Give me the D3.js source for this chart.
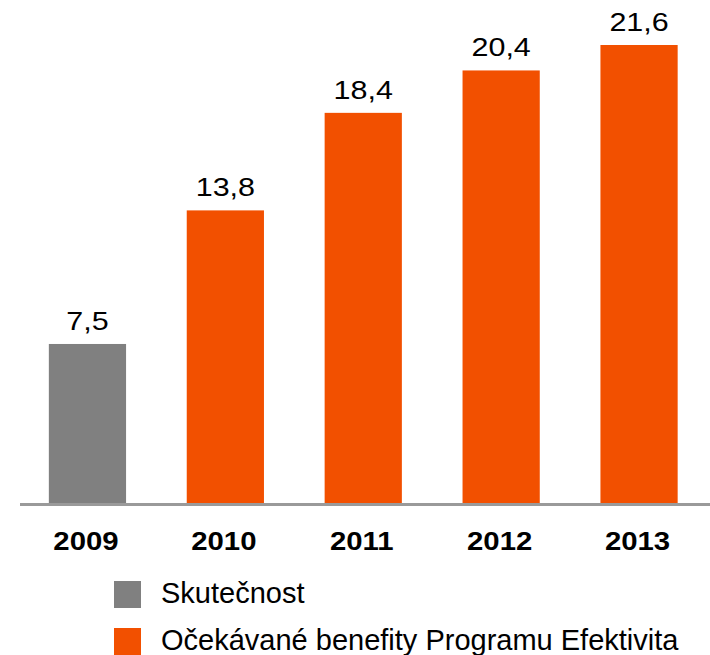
<!DOCTYPE html>
<html lang="cs">
<head>
    <meta charset="UTF-8">
    <title>Programu Efektivita</title>
    <script src="https://d3js.org/d3.v7.min.js"></script>
    <style>
        body { margin: 0; background: #fff; }
        svg { display: block; font-family: "Liberation Sans", Arial, sans-serif; }
    </style>
</head>
<body>
    <div id="chart"></div>
    <script>
        // data
        const years = ["2009", "2010", "2011", "2012", "2013"];
        const values = [7.5, 13.8, 18.4, 20.4, 21.6];
        const kinds = ["actual", "plan", "plan", "plan", "plan"];
        const legendLabels = ["Skutečnost", "Očekávané benefity Programu Efektivita"];

        const width = 710, height = 655;
        const baseY = 503;
        const colors = { actual: "#808080", plan: "#F25000" };
        const stretch = 1.22; // value labels in the original are horizontally widened

        const svg = d3.select("#chart").append("svg")
            .attr("width", width)
            .attr("height", height);

        const x = d3.scaleBand()
            .domain(years)
            .range([18.5, 708])
            .paddingInner(0.44)
            .paddingOuter(0.22);

        const y = d3.scaleLinear()
            .domain([0, 21.6])
            .range([baseY, 45]);

        const data = years.map((yr, i) => ({ year: yr, value: values[i], kind: kinds[i] }));

        svg.selectAll("rect.bar")
            .data(data)
            .join("rect")
            .attr("class", "bar")
            .attr("x", d => x(d.year))
            .attr("width", x.bandwidth())
            .attr("y", d => y(d.value))
            .attr("height", d => y(0) - y(d.value))
            .attr("fill", d => colors[d.kind]);

        // base line
        svg.append("line")
            .attr("x1", 20).attr("x2", width)
            .attr("y1", baseY + 1.5).attr("y2", baseY + 1.5)
            .attr("stroke", "#9a9a9a")
            .attr("stroke-width", 3);

        // value labels
        svg.selectAll("text.val")
            .data(data)
            .join("text")
            .attr("class", "val")
            .attr("transform", d => `translate(${x(d.year) + x.bandwidth() / 2},${y(d.value) - 14}) scale(${stretch},1)`)
            .attr("text-anchor", "middle")
            .style("font-size", "25px")
            .attr("fill", "#000")
            .text(d => d3.format(".1f")(d.value).replace(".", ","));

        // year labels
        svg.selectAll("text.year")
            .data(years)
            .join("text")
            .attr("class", "year")
            .attr("transform", d => `translate(${x(d) + x.bandwidth() / 2 - 1.5},550) scale(1.15,1)`)
            .attr("text-anchor", "middle")
            .style("font-size", "25.5px")
            .style("font-weight", "bold")
            .attr("fill", "#000")
            .text(d => d);

        // legend
        const legend = svg.selectAll("g.legend")
            .data(legendLabels)
            .join("g")
            .attr("class", "legend")
            .attr("transform", (d, i) => `translate(114,${581 + i * 47})`);

        legend.append("rect")
            .attr("width", 27)
            .attr("height", 27)
            .attr("fill", (d, i) => i === 0 ? colors.actual : colors.plan);

        legend.append("text")
            .attr("x", 47)
            .attr("y", 22)
            .style("font-size", "29px")
            .attr("fill", "#000")
            .text(d => d);
    </script>
</body>
</html>
